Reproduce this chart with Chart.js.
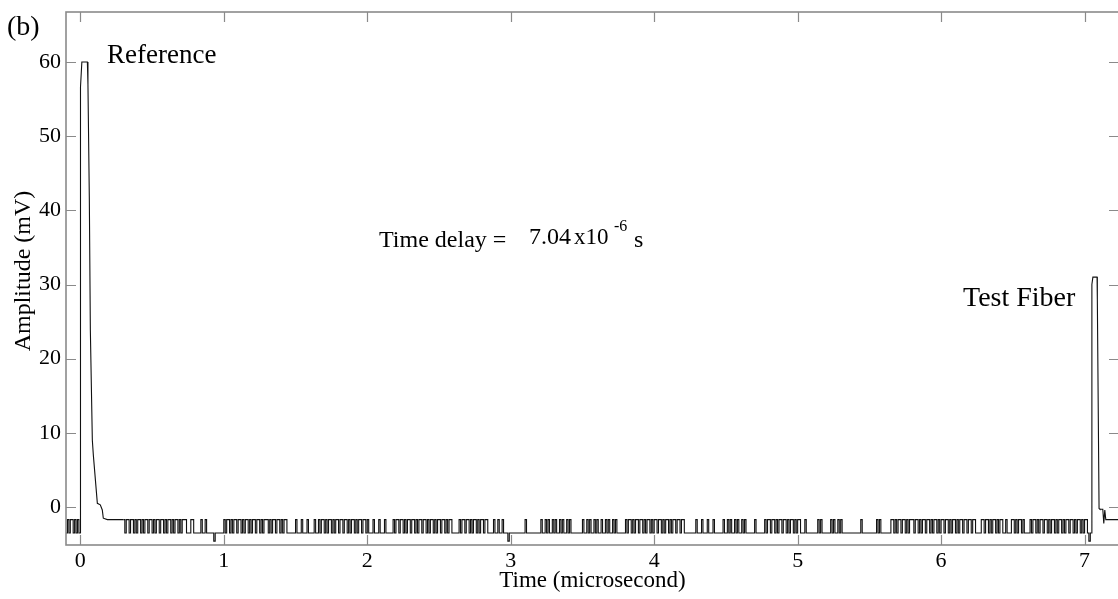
<!DOCTYPE html>
<html><head><meta charset="utf-8">
<script src="https://cdn.jsdelivr.net/npm/chart.js@4.4.1/dist/chart.umd.min.js"></script>
<style>
html,body{margin:0;padding:0;background:#fff;overflow:hidden;width:1118px;height:599px}
#wrap{position:relative;width:1120px;height:599px}
</style></head>
<body><div id="wrap"><canvas id="c"></canvas></div>
<script>
// ---- data ----
const xTicks = [0, 1, 2, 3, 4, 5, 6, 7];
const yTicks = [0, 10, 20, 30, 40, 50, 60];
const xRange = [-0.1, 7.24];
const yRange = [-5.12, 66.74];

// quantised baseline noise: code -> amplitude (mV)
const noiseLevels = { '0': -3.5, '1': -1.7, '2': -4.6 };
const sampleStep = 0.01;          // microsecond between samples
const preStart = -0.10;           // samples before the reference pulse
const preCodes = "01011010100";
const noiseStart = 0.30;          // samples between the two pulses
const noiseCodes = [
  "10110110101"+"10101101101"+"01101101011"+"0101101011"+"1"+"000"+"110",
  "0000"+"1"+"00"+"1"+"00000"+"2"+"000000"+"1011010110"+"1101011010"+"1101101011",
  "101011011010110"+"000"+"00"+"1"+"000"+"1"+"000"+"1"+"0000"+"1"+"00"+"1"+"0"+"110101101011",
  "0110110101"+"1010110110"+"1"+"000"+"1"+"000"+"1"+"000"+"1"+"00000"+"101101101011",
  "0110101101"+"1010110101"+"101101011"+"00000"+"1011011010110101",
  "10110"+"000"+"1"+"00"+"1"+"00"+"1"+"000"+"2"+"00000000000"+"1"+"0000000000"+"100101001",
  "0100101001010"+"0000000"+"1001010010"+"1001001010"+"010100"+"0000",
  "1011010110"+"1101011010"+"1101101011"+"0101101101"+"1"+"0000000"+"01",
  "000"+"1"+"000"+"1"+"000"+"1"+"000000"+"100101001010010100"+"0000"+"1"+"000000"+"101",
  "1011010110"+"1101011010"+"110"+"00"+"1"+"00000000"+"1"+"0"+"1"+"000000"+"1010010",
  "100"+"00000000000"+"1"+"0000000000"+"10100"+"00000"+"110101101101011",
  "1011010110"+"1101011010"+"1101101011"+"0101101101"+"10110"+"000"+"11",
  "0110101101011"+"001000"+"1101011010"+"000"+"101101011011010110",
  "10110101101101011010110"+"2"+"00"
];

// reference pulse (time in microsecond, amplitude in mV)
const refPulseT = [0, 0.001, 0.0105, 0.049, 0.053, 0.0627, 0.0697, 0.0836, 0.0906, 0.1185, 0.139, 0.153, 0.16, 0.188, 0.30];
const refPulseV = [-3.5, 56.6, 60, 60, 57, 41.4, 23.9, 9.0, 7.0, 0.5, 0.3, -0.4, -1.5, -1.7, -1.7];
// test fiber pulse
const testPulseT = [7.05, 7.051, 7.058, 7.087, 7.089, 7.101, 7.107, 7.127, 7.134, 7.141, 7.148, 7.24];
const testPulseV = [-3.5, 30, 31, 31, 28, -0.2, -0.3, -0.3, -2.2, -0.4, -1.7, -1.7];

// ---- build datasets ----
const noisePts = [];
preCodes.split('').forEach((c, i) => noisePts.push({ x: preStart + i * sampleStep, y: noiseLevels[c] }));
noisePts.push({ x: 0.0005, y: null });
noiseCodes.join('').split('').forEach((c, i) => noisePts.push({ x: noiseStart + i * sampleStep, y: noiseLevels[c] }));

const pulsePts = [];
refPulseT.forEach((t, i) => pulsePts.push({ x: t, y: refPulseV[i] }));
pulsePts.push({ x: 0.31, y: null });
testPulseT.forEach((t, i) => pulsePts.push({ x: t, y: testPulseV[i] }));

const SERIF = "'Liberation Serif', 'DejaVu Serif', serif";
const FRAME = '#8a8a8a';
const LINE = '#111';

const framePlugin = {
  id: 'frame',
  afterDatasetsDraw(chart) {
    const { ctx, chartArea: a, scales: { x, y } } = chart;
    ctx.save();
    ctx.strokeStyle = FRAME;
    ctx.lineWidth = 1.6;
    ctx.strokeRect(a.left, a.top, a.right - a.left, a.bottom - a.top);
    const L = 10;
    ctx.beginPath();
    xTicks.forEach(v => {
      const px = Math.round(x.getPixelForValue(v)) + 0.5;
      ctx.moveTo(px, a.bottom); ctx.lineTo(px, a.bottom - L);
      ctx.moveTo(px, a.top); ctx.lineTo(px, a.top + L);
    });
    yTicks.forEach(v => {
      const py = Math.round(y.getPixelForValue(v)) + 0.5;
      ctx.moveTo(a.left, py); ctx.lineTo(a.left + L, py);
      ctx.moveTo(a.right, py); ctx.lineTo(a.right - L, py);
    });
    ctx.lineWidth = 1.2;
    ctx.stroke();
    ctx.restore();
  },
  afterDraw(chart) {
    const { ctx, chartArea: a } = chart;
    ctx.save();
    ctx.fillStyle = '#000';
    ctx.textBaseline = 'alphabetic';
    ctx.textAlign = 'left';
    ctx.font = "28px " + SERIF;
    ctx.fillText('(b)', 7, 35);
    ctx.font = "27px " + SERIF;
    ctx.fillText('Reference', 107, 63);
    ctx.font = "28px " + SERIF;
    ctx.fillText('Test Fiber', 963, 306);
    ctx.font = "24px " + SERIF;
    ctx.fillText('Time delay = ', 379, 247);
    ctx.fillText('7.04', 529, 244);
    ctx.font = "23px " + SERIF;
    ctx.fillText('x10', 574, 244);
    ctx.font = "16px " + SERIF;
    ctx.fillText('-6', 614, 231);
    ctx.font = "24px " + SERIF;
    ctx.fillText('s', 634, 247);
    // y axis title
    ctx.translate(30, 271);
    ctx.rotate(-Math.PI / 2);
    ctx.textAlign = 'center';
    ctx.font = "24px " + SERIF;
    ctx.fillText('Amplitude (mV)', 0, 0);
    ctx.restore();
  }
};

new Chart(document.getElementById('c'), {
  type: 'line',
  data: {
    datasets: [
      { data: noisePts, stepped: true, borderColor: LINE, borderWidth: 1.1, pointRadius: 0, spanGaps: false, fill: false },
      { data: pulsePts, borderColor: LINE, borderWidth: 1.1, pointRadius: 0, spanGaps: false, fill: false, tension: 0 }
    ]
  },
  options: {
    responsive: true,
    maintainAspectRatio: false,
    animation: false,
    events: [],
    layout: { padding: { top: 12, right: 1, left: 0, bottom: 0 } },
    plugins: { legend: { display: false }, tooltip: { enabled: false } },
    scales: {
      x: {
        type: 'linear', min: xRange[0], max: xRange[1],
        afterBuildTicks: s => { s.ticks = xTicks.map(v => ({ value: v })); },
        afterFit: s => { s.height = 54; s.paddingLeft = 0; s.paddingRight = 0; },
        grid: { display: false, drawTicks: false },
        border: { display: false },
        ticks: { autoSkip: false, maxRotation: 0, padding: 3, color: '#000', font: { family: SERIF, size: 22 } },
        title: { display: true, text: 'Time (microsecond)', color: '#000', font: { family: SERIF, size: 23 }, padding: { top: 0, bottom: 4 } }
      },
      y: {
        type: 'linear', min: yRange[0], max: yRange[1],
        afterBuildTicks: s => { s.ticks = yTicks.map(v => ({ value: v })); },
        afterFit: s => { s.width = 66; s.paddingTop = 0; s.paddingBottom = 0; },
        grid: { display: false, drawTicks: false },
        border: { display: false },
        ticks: { autoSkip: false, padding: 5, color: '#000', font: { family: SERIF, size: 22 } },
        title: { display: false }
      }
    }
  },
  plugins: [framePlugin]
});
</script>
</body></html>
